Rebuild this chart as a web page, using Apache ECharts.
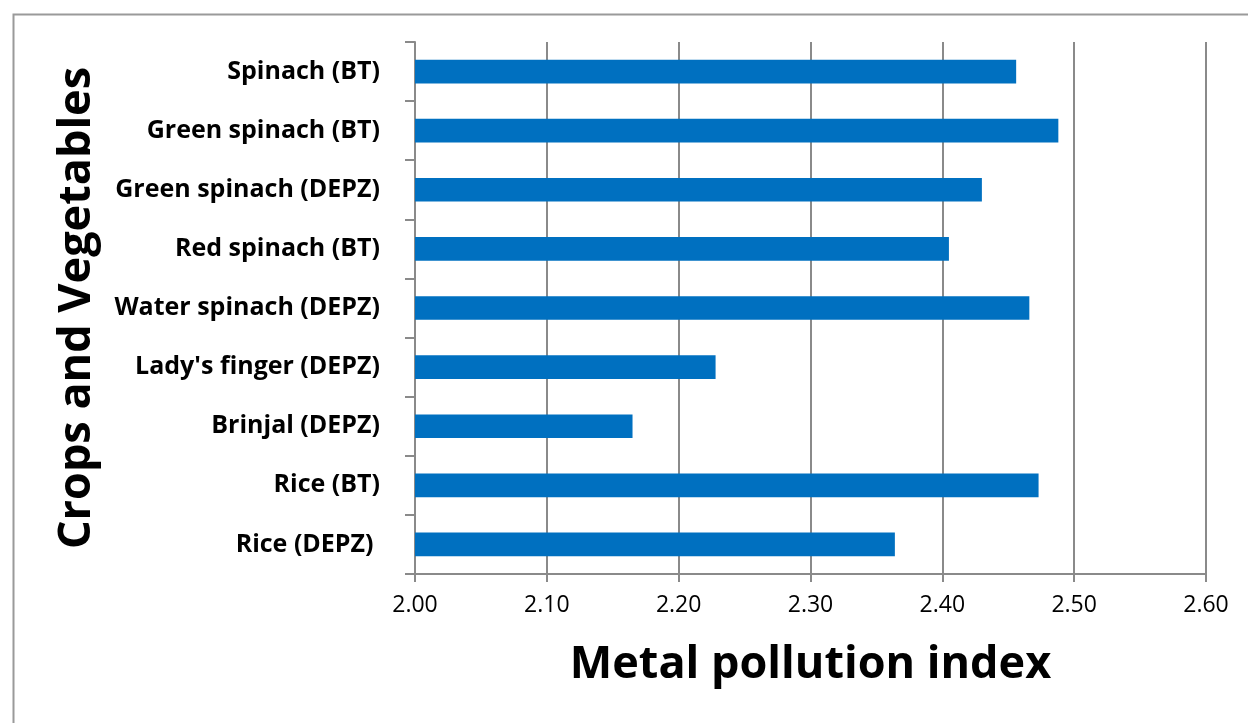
<!DOCTYPE html>
<html>
<head>
<meta charset="utf-8">
<script src="https://cdn.jsdelivr.net/npm/echarts@6/dist/echarts.min.js"></script>
<style>
  html, body { margin: 0; padding: 0; background: #ffffff; }
  #chart { width: 1248px; height: 723px; }
</style>
</head>
<body>
<div id="chart"></div>
<script>
// Categories listed bottom to top (category axis runs upward)
const crops = [
  "Rice (DEPZ) ",
  "Rice (BT)",
  "Brinjal (DEPZ)",
  "Lady's finger (DEPZ)",
  "Water spinach (DEPZ)",
  "Red spinach (BT)",
  "Green spinach (DEPZ)",
  "Green spinach (BT)",
  "Spinach (BT)"
];
const mpi = [2.364, 2.473, 2.165, 2.228, 2.466, 2.405, 2.430, 2.488, 2.456];

const xTitle = "Metal pollution index";
const yTitle = "Crops and Vegetables";

const FONT = "'Open Sans', 'Liberation Sans', sans-serif";
const AXIS_GREY = "#8a8a8a";

const chart = echarts.init(document.getElementById("chart"), null, { renderer: "canvas" });

chart.setOption({
  backgroundColor: "#ffffff",
  animation: false,
  graphic: [{
    type: "rect",
    left: 11,
    top: 12,
    shape: { width: 1400, height: 900 },
    style: { fill: "none", stroke: "#9a9a9a", lineWidth: 2 },
    silent: true
  }],
  grid: { left: 415, right: 42, top: 42, bottom: 149 },
  xAxis: {
    type: "value",
    min: 2.0,
    max: 2.6,
    interval: 0.1,
    name: xTitle,
    nameLocation: "middle",
    nameGap: 69,
    nameTextStyle: { fontFamily: FONT, fontSize: 45, fontWeight: "bold", color: "#000000" },
    axisLine: { show: true, lineStyle: { color: AXIS_GREY, width: 2 } },
    axisTick: { show: true, inside: false, length: 8, lineStyle: { color: AXIS_GREY, width: 2 } },
    splitLine: { show: true, lineStyle: { color: AXIS_GREY, width: 2 } },
    axisLabel: {
      fontFamily: FONT, fontSize: 23, color: "#000000", margin: 20,
      formatter: v => v.toFixed(2)
    }
  },
  yAxis: {
    type: "category",
    data: crops,
    name: yTitle,
    nameLocation: "middle",
    nameRotate: 90,
    nameGap: 315,
    nameTextStyle: { fontFamily: FONT, fontSize: 45, fontWeight: "bold", color: "#000000" },
    axisLine: { show: true, lineStyle: { color: AXIS_GREY, width: 2 } },
    axisTick: { show: true, inside: false, length: 10, alignWithLabel: false, lineStyle: { color: AXIS_GREY, width: 2 } },
    splitLine: { show: false },
    axisLabel: {
      fontFamily: FONT, fontSize: 25, fontWeight: "bold", color: "#000000", margin: 35
    }
  },
  series: [{
    type: "bar",
    data: mpi,
    barWidth: "40%",
    itemStyle: { color: "#0070C0" }
  }]
});
</script>
</body>
</html>
